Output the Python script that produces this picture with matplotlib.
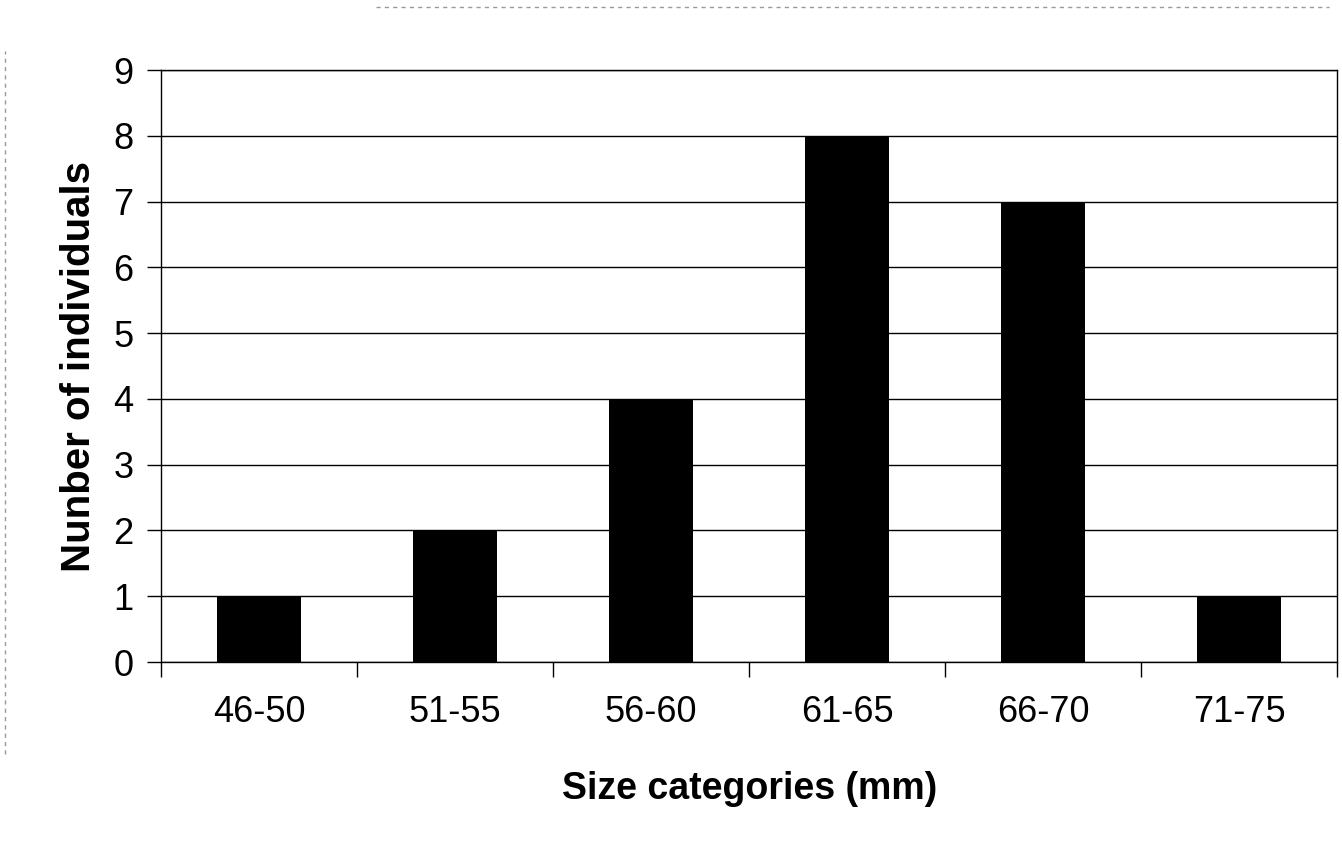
import matplotlib.pyplot as plt
from matplotlib.lines import Line2D

plt.rcParams['font.family'] = ['Liberation Sans', 'DejaVu Sans']

categories = ['46-50', '51-55', '56-60', '61-65', '66-70', '71-75']
counts = [1, 2, 4, 8, 7, 1]
yticks = list(range(0, 10))

fig = plt.figure(figsize=(13.42, 8.57), dpi=100)
ax = fig.add_axes([0.12, 0.2275, 0.8765, 0.6908])

x = list(range(len(categories)))
ax.bar(x, counts, width=0.43, color='black', zorder=3)

ax.set_xlim(-0.5, len(categories) - 0.5)
ax.set_ylim(0, 9)
ax.set_yticks(yticks)
ax.set_yticklabels([str(v) for v in yticks], fontsize=26)
ax.yaxis.grid(True, color='black', linewidth=1.0, zorder=0)

# category labels in the middle, tick marks on the boundaries
ax.set_xticks(x)
ax.set_xticklabels(categories, fontsize=26)
ax.tick_params(axis='x', length=0, pad=24)
ax.set_xticks([i - 0.5 for i in range(len(categories) + 1)], minor=True)
ax.tick_params(axis='x', which='minor', length=11, width=1, direction='out')
ax.tick_params(axis='y', length=10, width=1, direction='out', pad=10)

for s in ax.spines.values():
    s.set_color('black')
    s.set_linewidth(1.0)

ax.set_xlabel('Size categories (mm)', fontsize=27, fontweight='bold', labelpad=29)
ax.set_ylabel('Nunber of individuals', fontsize=29, fontweight='bold', labelpad=11)

# faint scan edges
fig.add_artist(Line2D([0.28, 0.99], [0.992, 0.992], transform=fig.transFigure,
                      color='0.6', linewidth=1, linestyle=(0, (3, 3))))
fig.add_artist(Line2D([0.004, 0.004], [0.12, 0.94], transform=fig.transFigure,
                      color='0.6', linewidth=1, linestyle=(0, (3, 3))))

fig.savefig('out.png', dpi=100)
